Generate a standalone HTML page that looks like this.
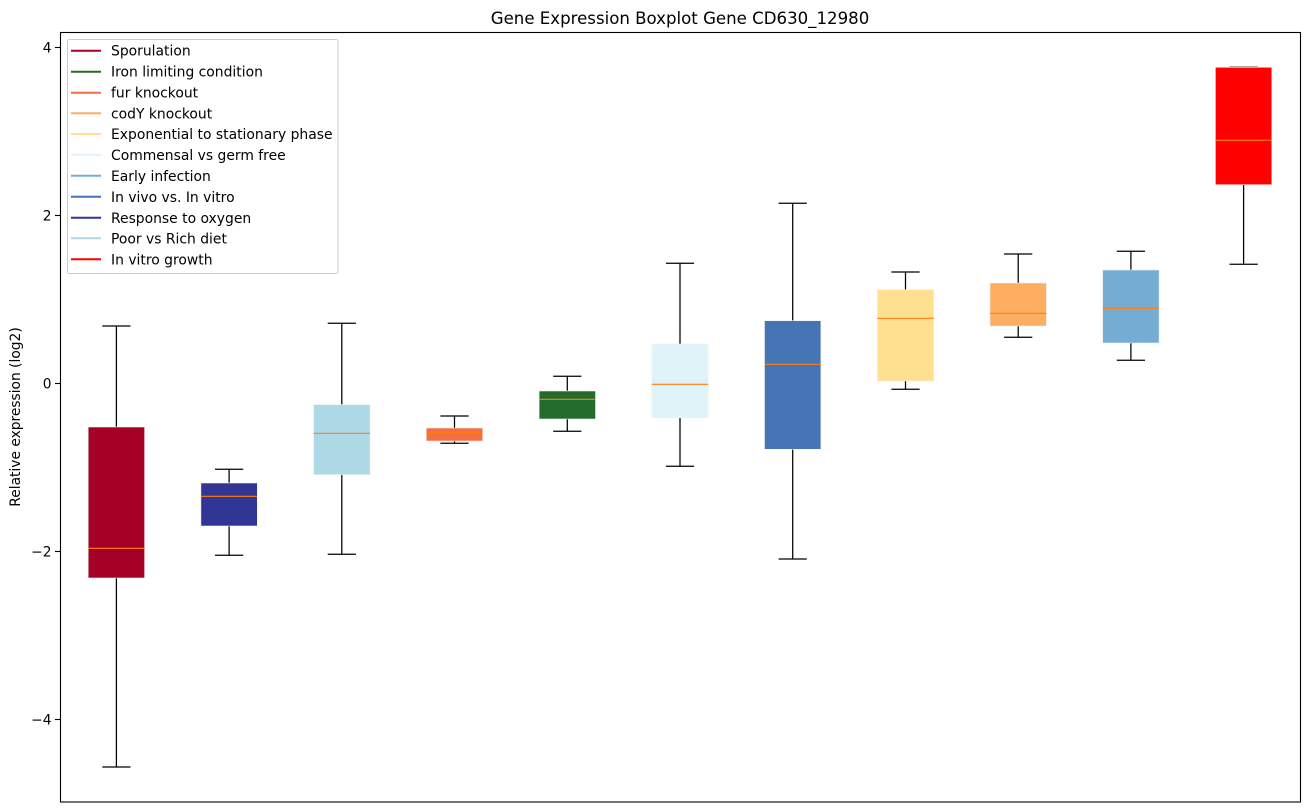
<!DOCTYPE html>
<html><head><meta charset="utf-8"><style>
html,body{margin:0;padding:0;background:#fff;}
svg{display:block;font-family:"DejaVu Sans","Liberation Sans",sans-serif;}
</style></head><body>
<svg width="1309" height="812" viewBox="0 0 1309 812" xmlns="http://www.w3.org/2000/svg">
<rect x="0" y="0" width="1309" height="812" fill="#fff"/>
<text x="680" y="24" font-size="16.6" text-anchor="middle" fill="#000">Gene Expression Boxplot Gene CD630_12980</text>
<g stroke="#000" stroke-width="1.25" fill="none">
<!-- box1 -->
<line x1="116.4" y1="326" x2="116.4" y2="427"/><line x1="102.3" y1="326" x2="130.5" y2="326"/>
<line x1="116.4" y1="578" x2="116.4" y2="767"/><line x1="102.3" y1="767" x2="130.5" y2="767"/>
<!-- box2 -->
<line x1="229.1" y1="469.3" x2="229.1" y2="483"/><line x1="215" y1="469.3" x2="243.2" y2="469.3"/>
<line x1="229.1" y1="526" x2="229.1" y2="555.3"/><line x1="215" y1="555.3" x2="243.2" y2="555.3"/>
<!-- box3 -->
<line x1="341.8" y1="323.3" x2="341.8" y2="404.7"/><line x1="327.7" y1="323.3" x2="355.9" y2="323.3"/>
<line x1="341.8" y1="474.7" x2="341.8" y2="554.3"/><line x1="327.7" y1="554.3" x2="355.9" y2="554.3"/>
<!-- box4 -->
<line x1="454.5" y1="416" x2="454.5" y2="428"/><line x1="440.4" y1="416" x2="468.6" y2="416"/>
<line x1="454.5" y1="441" x2="454.5" y2="443.3"/><line x1="440.4" y1="443.3" x2="468.6" y2="443.3"/>
<!-- box5 -->
<line x1="567.3" y1="376.3" x2="567.3" y2="391"/><line x1="553.2" y1="376.3" x2="581.4" y2="376.3"/>
<line x1="567.3" y1="419" x2="567.3" y2="431.3"/><line x1="553.2" y1="431.3" x2="581.4" y2="431.3"/>
<!-- box6 -->
<line x1="680" y1="263.3" x2="680" y2="344"/><line x1="665.9" y1="263.3" x2="694.1" y2="263.3"/>
<line x1="680" y1="417.7" x2="680" y2="466.3"/><line x1="665.9" y1="466.3" x2="694.1" y2="466.3"/>
<!-- box7 -->
<line x1="792.7" y1="203.3" x2="792.7" y2="320.7"/><line x1="778.6" y1="203.3" x2="806.8" y2="203.3"/>
<line x1="792.7" y1="449.3" x2="792.7" y2="559"/><line x1="778.6" y1="559" x2="806.8" y2="559"/>
<!-- box8 -->
<line x1="905.5" y1="272" x2="905.5" y2="289.7"/><line x1="891.4" y1="272" x2="919.6" y2="272"/>
<line x1="905.5" y1="381" x2="905.5" y2="389.3"/><line x1="891.4" y1="389.3" x2="919.6" y2="389.3"/>
<!-- box9 -->
<line x1="1018.2" y1="254" x2="1018.2" y2="283"/><line x1="1004.1" y1="254" x2="1032.3" y2="254"/>
<line x1="1018.2" y1="326" x2="1018.2" y2="337.3"/><line x1="1004.1" y1="337.3" x2="1032.3" y2="337.3"/>
<!-- box10 -->
<line x1="1130.9" y1="251.3" x2="1130.9" y2="270"/><line x1="1116.8" y1="251.3" x2="1145" y2="251.3"/>
<line x1="1130.9" y1="343" x2="1130.9" y2="360.3"/><line x1="1116.8" y1="360.3" x2="1145" y2="360.3"/>
<!-- box11 -->
<line x1="1229.5" y1="66.7" x2="1257.7" y2="66.7" stroke="#999"/>
<line x1="1243.6" y1="184.7" x2="1243.6" y2="264.3"/><line x1="1229.5" y1="264.3" x2="1257.7" y2="264.3"/>
</g>
<g stroke="#f0f0f0" stroke-width="0.6">
<rect x="88.2" y="427" width="56.4" height="151" fill="#a50026"/>
<rect x="200.9" y="483" width="56.4" height="43" fill="#313695"/>
<rect x="313.6" y="404.7" width="56.4" height="70" fill="#add8e6"/>
<rect x="426.3" y="428" width="56.4" height="13" fill="#f46d43"/>
<rect x="539.1" y="391" width="56.4" height="28" fill="#226c2c"/>
<rect x="651.8" y="344" width="56.4" height="73.7" fill="#e0f3f8"/>
<rect x="764.5" y="320.7" width="56.4" height="128.6" fill="#4575b4"/>
<rect x="877.3" y="289.7" width="56.4" height="91.3" fill="#fee090"/>
<rect x="990" y="283" width="56.4" height="43" fill="#fdae61"/>
<rect x="1102.7" y="270" width="56.4" height="73" fill="#74add1"/>
<rect x="1215.4" y="67.3" width="56.4" height="117.4" fill="#ff0000"/>
</g>
<g stroke="#ff7f0e" stroke-width="1.2">
<line x1="88.2" y1="548.3" x2="144.6" y2="548.3"/>
<line x1="200.9" y1="496.3" x2="257.3" y2="496.3"/>
<line x1="313.6" y1="433.3" x2="370" y2="433.3"/>
<line x1="426.3" y1="432.3" x2="482.7" y2="432.3"/>
<line x1="539.1" y1="399.3" x2="595.5" y2="399.3"/>
<line x1="651.8" y1="384.3" x2="708.2" y2="384.3"/>
<line x1="764.5" y1="364.3" x2="820.9" y2="364.3"/>
<line x1="877.3" y1="318.3" x2="933.7" y2="318.3"/>
<line x1="990" y1="313.3" x2="1046.4" y2="313.3"/>
<line x1="1102.7" y1="308.3" x2="1159.1" y2="308.3"/>
<line x1="1215.4" y1="140.3" x2="1271.8" y2="140.3"/>
</g>
<rect x="60.5" y="32.5" width="1240" height="769.5" fill="none" stroke="#000" stroke-width="1.1"/>
<g stroke="#000" stroke-width="1.1">
<line x1="55" y1="47.5" x2="60" y2="47.5"/>
<line x1="55" y1="215.5" x2="60" y2="215.5"/>
<line x1="55" y1="383.5" x2="60" y2="383.5"/>
<line x1="55" y1="551.5" x2="60" y2="551.5"/>
<line x1="55" y1="719.5" x2="60" y2="719.5"/>
</g>
<g font-size="13.8" fill="#000" text-anchor="end">
<text x="51.5" y="52.5">4</text>
<text x="51.5" y="220.5">2</text>
<text x="51.5" y="388.5">0</text>
<text x="51.5" y="556.5">−2</text>
<text x="51.5" y="724.5">−4</text>
</g>
<text transform="translate(20,417) rotate(-90)" font-size="13.8" text-anchor="middle" fill="#000">Relative expression (log2)</text>
<rect x="67.5" y="39.5" width="270.5" height="234" rx="2" ry="2" fill="#fff" fill-opacity="0.8" stroke="#ccc" stroke-width="1"/>
<g stroke-width="2">
<line x1="71" y1="50.7" x2="101" y2="50.7" stroke="#a50026"/>
<line x1="71" y1="71.7" x2="101" y2="71.7" stroke="#226c2c"/>
<line x1="71" y1="92.7" x2="101" y2="92.7" stroke="#f46d43"/>
<line x1="71" y1="113.3" x2="101" y2="113.3" stroke="#fdae61"/>
<line x1="71" y1="134" x2="101" y2="134" stroke="#fee090"/>
<line x1="71" y1="154.7" x2="101" y2="154.7" stroke="#e0f3f8"/>
<line x1="71" y1="175.7" x2="101" y2="175.7" stroke="#74add1"/>
<line x1="71" y1="196.7" x2="101" y2="196.7" stroke="#4575b4"/>
<line x1="71" y1="217.7" x2="101" y2="217.7" stroke="#313695"/>
<line x1="71" y1="238.3" x2="101" y2="238.3" stroke="#add8e6"/>
<line x1="71" y1="259.3" x2="101" y2="259.3" stroke="#ff0000"/>
</g>
<g font-size="13.9" fill="#000">
<text x="111" y="55.7">Sporulation</text>
<text x="111" y="76.7">Iron limiting condition</text>
<text x="111" y="97.7">fur knockout</text>
<text x="111" y="118.4">codY knockout</text>
<text x="111" y="139.1">Exponential to stationary phase</text>
<text x="111" y="159.8">Commensal vs germ free</text>
<text x="111" y="180.8">Early infection</text>
<text x="111" y="201.8">In vivo vs. In vitro</text>
<text x="111" y="222.8">Response to oxygen</text>
<text x="111" y="243.4">Poor vs Rich diet</text>
<text x="111" y="264.4">In vitro growth</text>
</g>
</svg>
</body></html>
